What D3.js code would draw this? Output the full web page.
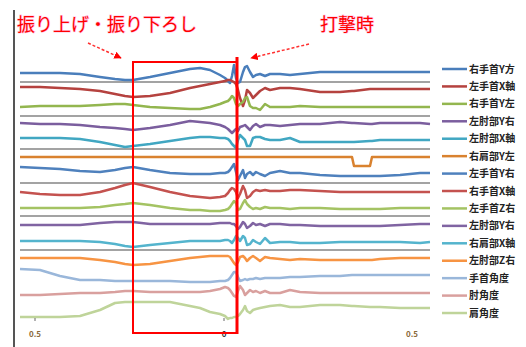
<!DOCTYPE html>
<html>
<head>
<meta charset="utf-8">
<script src="https://cdn.jsdelivr.net/npm/d3@7/dist/d3.min.js"></script>
<style>
  html, body { margin: 0; padding: 0; background: #fff; }
  svg { display: block; }
  text { font-family: "Noto Sans CJK JP", "Noto Sans", sans-serif; }
</style>
</head>
<body>
<svg id="chart" width="526" height="347"></svg>
<script>
// Sample times (ms), denser around the moment of impact
const time = [0,20,40,60,80,95,105,113,130,150,170,180,190,200,205,208,210,212,214,216,218,220,223,225,227,230,233,236,240,245,250,260,270,280,300,320,332,334,350,352,360,380,400,410];

const seriesNames = ["右手首Y方","左手首X軸","右手首Y左","左肘部Y右","左肘部X軸","右肩部Y左","左手首Y右","右手首X軸","左手首Z右","左肘部Y右","右肩部X軸","左肘部Z右","手首角度","肘角度","肩角度"];
const seriesColors = ["#4a7ebb","#b5423f","#93b64f","#7b5e9e","#41a7c2","#d9822f","#4f81bd","#c4524f","#a4c363","#8064a2","#54b4cd","#f79443","#9ab7da","#d9a09e","#bfd49a"];

// Channel readings (offset signals, arbitrary units)
const s1  = [267,267,267,266,263,261,260,260,263,267,271,272,270,265,262,259,257,264,275,262,257,258,268,273,274,268,263,265,266,264,266,266,265,266,268,268,268,268,268,268,268,268,268,268];
const s2  = [253,253,252,251,249,246,244,243,244,247,252,254,256,258,259,260,260,259,258,256,250,242,234,240,250,247,242,245,249,252,250,252,252,251,248,248,249,249,251,251,251,251,251,251];
const s3  = [233,234,234,234,235,236,236,235,233,232,231,231,233,236,238,239,241,244,242,236,234,236,238,242,243,234,232,232,230,236,233,233,233,234,233,233,233,233,233,233,233,233,233,233];
const s4  = [217,216,216,215,213,212,211,210,212,215,219,218,217,215,213,211,209,207,209,211,209,213,214,215,213,210,214,216,213,215,215,214,215,216,216,218,217,217,216,216,217,217,217,216];
const s5  = [202,202,202,201,198,195,193,194,196,199,202,203,203,202,202,201,199,196,194,192,200,205,202,200,194,194,202,203,203,201,200,200,202,198,198,198,198,198,199,199,200,200,200,200];
const s6  = [183,183,183,183,183,183,183,183,183,183,183,183,183,183,183,183,183,183,183,183,183,183,183,183,183,183,183,183,183,183,183,183,183,183,183,183,183,174,174,183,183,183,183,183];
const s7  = [173,172,171,169,168,170,172,173,170,167,166,166,166,167,167,168,170,173,176,168,160,164,170,162,166,168,165,168,166,164,167,169,167,167,165,164,164,164,164,164,164,165,167,167];
const s8  = [148,146,145,145,148,152,155,157,153,148,144,143,142,143,144,147,150,152,151,148,142,146,154,150,142,144,148,150,149,150,149,149,150,150,149,148,148,148,148,148,148,148,148,148];
const s9  = [132,132,132,132,133,135,136,137,135,132,130,130,129,129,130,131,133,136,139,137,130,131,137,140,136,133,131,132,131,133,132,132,131,132,132,131,131,131,131,131,131,132,132,132];
const s10 = [115,115,115,115,117,118,118,118,116,116,116,116,116,117,117,117,117,116,116,114,111,113,118,116,112,114,117,115,116,114,116,116,115,115,114,114,114,114,114,114,114,115,116,116];
const s11 = [99,99,99,99,98,96,94,93,95,97,99,99,99,99,100,100,99,97,100,104,102,99,104,102,95,96,100,98,96,102,97,98,98,97,97,98,98,98,98,98,98,98,97,98];
const s12 = [82,82,82,82,80,78,76,75,76,79,82,83,84,84,84,84,83,80,77,75,78,83,84,82,79,82,84,82,79,83,82,81,80,81,80,80,80,80,80,80,81,82,82,82];
const s13 = [71,70,64,60,60,59,59,59,59,59,58,58,58,59,59,60,62,65,68,68,63,59,60,61,60,61,61,62,61,62,62,62,63,63,64,64,65,65,65,65,65,65,65,65];
const s14 = [45,45,46,47,47,48,49,49,48,48,48,48,49,51,53,52,50,47,44,43,49,54,50,45,47,50,48,49,47,49,47,47,50,48,47,47,47,47,47,47,47,47,47,47];
const s15 = [23,23,23,24,30,37,38,38,38,38,34,32,28,26,24,21,22,22,23,23,24,26,30,34,29,27,30,31,32,33,34,35,33,33,35,35,34,34,33,33,33,32,32,32];
const seriesValues = [s1,s2,s3,s4,s5,s6,s7,s8,s9,s10,s11,s12,s13,s14,s15];

// Zero reference levels of the paired channels
const refLevels = [258,224,191,157,124,90];

// Time labels under the plot
const tickTimes = [15, 204, 392];
const tickLabels = ["0.5", "0", "0.5"];

// Highlighted windows
const swingWindow = [113, 217];   // swing-up / swing-down phase (ms)
const swingLabel = "振り上げ・振り下ろし";
const impactLabel = "打撃時";

const svg = d3.select("#chart");
const x = d3.scaleLinear().domain([0, 410]).range([20, 430]);
const y = d3.scaleLinear().domain([0, 330]).range([340, 10]);

// vertical axis
svg.append("line")
  .attr("x1", 14).attr("x2", 14).attr("y1", 10).attr("y2", 347)
  .attr("stroke", "#555").attr("stroke-width", 2);

// reference lines
svg.append("g").selectAll("line").data(refLevels).join("line")
  .attr("x1", x(0)).attr("x2", x(410))
  .attr("y1", d => y(d)).attr("y2", d => y(d))
  .attr("stroke", "#a3a3a3").attr("stroke-width", 2);

// signal traces
const line = d3.line().x((d, i) => x(time[i])).y(d => y(d));
svg.append("g").selectAll("path").data(seriesValues).join("path")
  .attr("d", d => line(d))
  .attr("fill", "none")
  .attr("stroke", (d, i) => seriesColors[i])
  .attr("stroke-width", 2.5)
  .attr("stroke-linejoin", "round");

// small time ticks and labels
svg.append("g").selectAll("line").data(tickTimes.slice(0, 2)).join("line")
  .attr("x1", d => x(d)).attr("x2", d => x(d))
  .attr("y1", 318).attr("y2", 321)
  .attr("stroke", "#666").attr("stroke-width", 1);
svg.append("g").selectAll("text").data(tickTimes).join("text")
  .attr("x", d => x(d)).attr("y", 337)
  .attr("text-anchor", "middle")
  .attr("font-size", 8).attr("font-weight", "bold")
  .attr("fill", (d, i) => i === 1 ? "#333" : "#8a6a3a")
  .text((d, i) => tickLabels[i]);

// swing window box
const bx0 = x(swingWindow[0]), bx1 = x(swingWindow[1]);
svg.append("rect")
  .attr("x", bx0).attr("y", 62).attr("width", bx1 - bx0).attr("height", 271)
  .attr("fill", "none").attr("stroke", "#ff0000").attr("stroke-width", 2);
svg.append("line")
  .attr("x1", bx1).attr("x2", bx1).attr("y1", 57).attr("y2", 334)
  .attr("stroke", "#ff0000").attr("stroke-width", 3);

// annotation arrows
const defs = svg.append("defs");
defs.append("marker").attr("id", "arrow")
  .attr("viewBox", "0 0 10 10").attr("refX", 9).attr("refY", 5)
  .attr("markerWidth", 5).attr("markerHeight", 5).attr("orient", "auto")
  .append("path").attr("d", "M0,0 L10,5 L0,10 z").attr("fill", "#ff0000");
svg.append("line")
  .attr("x1", 88).attr("y1", 43).attr("x2", 121).attr("y2", 58)
  .attr("stroke", "#ff3030").attr("stroke-width", 1.5)
  .attr("stroke-dasharray", "3,2").attr("marker-end", "url(#arrow)");
svg.append("line")
  .attr("x1", 309).attr("y1", 44).attr("x2", 251).attr("y2", 58)
  .attr("stroke", "#ff3030").attr("stroke-width", 1.5)
  .attr("stroke-dasharray", "3,2").attr("marker-end", "url(#arrow)");

// annotation labels
svg.append("text").attr("x", 17).attr("y", 31)
  .attr("font-size", 18).attr("fill", "#ff0000")
  .attr("stroke", "#ffc8e6").attr("stroke-width", 1.2).attr("paint-order", "stroke")
  .text(swingLabel);
svg.append("text").attr("x", 320).attr("y", 31)
  .attr("font-size", 18).attr("fill", "#ff0000")
  .attr("stroke", "#ffc8e6").attr("stroke-width", 1.2).attr("paint-order", "stroke")
  .text(impactLabel);

// legend
const legend = svg.append("g").selectAll("g").data(seriesNames).join("g")
  .attr("transform", (d, i) => `translate(442, ${69 + i * 17.43})`);
legend.append("line")
  .attr("x1", 0).attr("x2", 25)
  .attr("stroke", (d, i) => seriesColors[i]).attr("stroke-width", 2.5);
legend.append("text")
  .attr("x", 27).attr("y", 3.5)
  .attr("font-size", 10).attr("font-weight", "bold").attr("fill", "#222")
  .text(d => d);
</script>
</body>
</html>
